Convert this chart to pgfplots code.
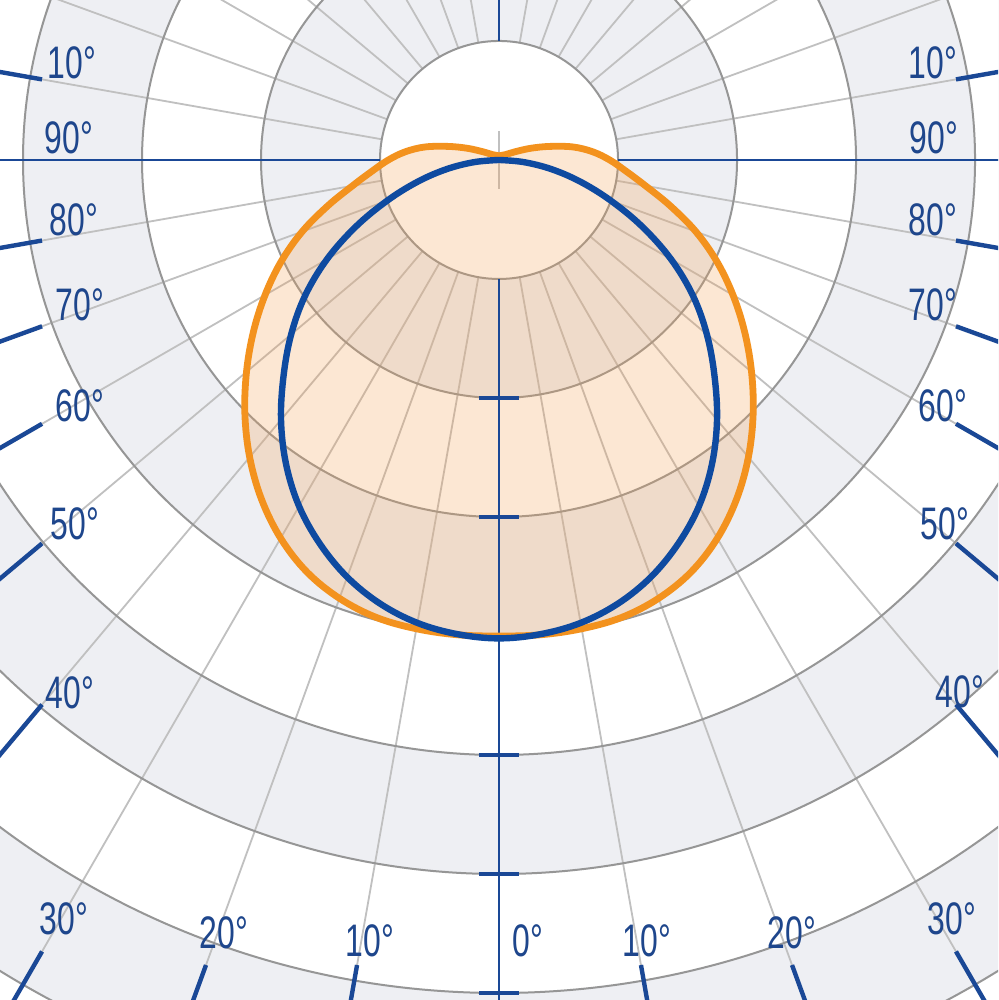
\documentclass[border=0pt]{standalone}
\usepackage{pgfplots}
\pgfplotsset{compat=1.18}
\usepackage{fontspec}
\setmainfont{Liberation Sans}
\usepackage{graphicx}
\definecolor{bandgrey}{RGB}{238,239,243}
\definecolor{ringgrey}{RGB}{150,150,150}
\definecolor{radgrey}{RGB}{192,192,192}
\definecolor{axblue}{RGB}{26,72,150}
\definecolor{curveblue}{RGB}{14,74,160}
\definecolor{corange}{RGB}{243,146,30}
\definecolor{ofill}{RGB}{245,160,80}
\definecolor{lblue}{RGB}{30,70,140}
\newcommand{\lab}[1]{\scalebox{0.7}[1]{#1}}
\pgfplotstableread{
phi r
-270 0.035
-240 0.045
-220 0.07
-210 0.12
-205 0.18
-200 0.29
-195 0.44
-190 0.63
-185 0.79
-180 0.93
-175 1.07
-170 1.25
-165 1.49
-160 1.76
-155 2.02
-150 2.27
-145 2.52
-140 2.77
-135 3.02
-130 3.26
-125 3.48
-120 3.67
-115 3.82
-110 3.92
-105 3.98
-100 4.00
-95 4.005
-90 4.00
-85 4.005
-80 4.00
-75 3.98
-70 3.92
-65 3.82
-60 3.67
-55 3.48
-50 3.26
-45 3.02
-40 2.77
-35 2.52
-30 2.27
-25 2.02
-20 1.76
-15 1.49
-10 1.25
-5 1.07
0 0.93
5 0.79
10 0.63
15 0.44
20 0.29
25 0.18
30 0.12
40 0.07
60 0.045
90 0.035
}\orangedata
\pgfplotstableread{
phi r
-180 0
-175 0.21
-170 0.45
-165 0.71
-160 1.00
-155 1.33
-150 1.67
-145 1.99
-140 2.28
-135 2.56
-130 2.85
-125 3.12
-120 3.36
-115 3.56
-110 3.73
-105 3.86
-100 3.95
-95 4.00
-90 4.02
-85 4.00
-80 3.95
-75 3.86
-70 3.73
-65 3.56
-60 3.36
-55 3.12
-50 2.85
-45 2.56
-40 2.28
-35 1.99
-30 1.67
-25 1.33
-20 1.00
-15 0.71
-10 0.45
-5 0.21
0 0
}\bluedata
\begin{document}
\begin{tikzpicture}
\begin{axis}[
  x=29.75pt, y=29.75pt,
  xmin=-4.1933, xmax=4.1933, ymin=-7.0588, ymax=1.3445,
  axis line style={draw=none}, ticks=none,
  clip=true,
]
% bands
\fill[bandgrey] (axis cs:0,0) circle[radius=8];
\fill[white] (axis cs:0,0) circle[radius=7];
\fill[bandgrey] (axis cs:0,0) circle[radius=6];
\fill[white] (axis cs:0,0) circle[radius=5];
\fill[bandgrey] (axis cs:0,0) circle[radius=4];
\fill[white] (axis cs:0,0) circle[radius=3];
\fill[bandgrey] (axis cs:0,0) circle[radius=2];
\fill[white] (axis cs:0,0) circle[radius=1];
% radial lines every 10 degrees
\pgfplotsinvokeforeach{0,10,...,350}{
  \draw[radgrey, line width=0.45pt] (axis cs:{cos(#1)},{sin(#1)}) -- (axis cs:{12*cos(#1)},{12*sin(#1)});
}
% rings
\pgfplotsinvokeforeach{1,2,...,9}{
  \draw[ringgrey, line width=0.5pt] (axis cs:0,0) circle[radius=#1];
}
% centre mark
\draw[radgrey, line width=0.45pt] (axis cs:0,-0.24) -- (axis cs:0,0.24);
% orange fill
\addplot[draw=none, fill=ofill, fill opacity=0.25, data cs=polar, smooth, tension=0.6] table[x=phi, y=r] {\orangedata} -- cycle;
% blue axes
\draw[axblue, line width=0.55pt] (axis cs:-6,0) -- (axis cs:-1,0);
\draw[axblue, line width=0.55pt] (axis cs:1,0) -- (axis cs:6,0);
\draw[axblue, line width=0.55pt] (axis cs:0,1) -- (axis cs:0,3);
\draw[axblue, line width=0.55pt] (axis cs:0,-1) -- (axis cs:0,-9);
\pgfplotsinvokeforeach{2,3,...,7}{
  \draw[axblue, line width=0.8pt] (axis cs:-0.168,-#1) -- (axis cs:0.168,-#1);
}
% angle ticks on the frame
\pgfplotsinvokeforeach{30,40,50,60,70,80,100}{
  \draw[axblue, line width=1.1pt] (axis cs:-3.84,{-3.84*cot(#1)}) -- (axis cs:{-3.84-0.8*sin(#1)},{-3.84*cot(#1)-0.8*cos(#1)});
  \draw[axblue, line width=1.1pt] (axis cs:3.84,{-3.84*cot(#1)}) -- (axis cs:{3.84+0.8*sin(#1)},{-3.84*cot(#1)-0.8*cos(#1)});
}
\pgfplotsinvokeforeach{10,20}{
  \draw[axblue, line width=1.1pt] (axis cs:{-6.765*tan(#1)},-6.765) -- (axis cs:{-6.765*tan(#1)-0.8*sin(#1)},{-6.765-0.8*cos(#1)});
  \draw[axblue, line width=1.1pt] (axis cs:{6.765*tan(#1)},-6.765) -- (axis cs:{6.765*tan(#1)+0.8*sin(#1)},{-6.765-0.8*cos(#1)});
}
% curves
\addplot[corange, line width=1.7pt, data cs=polar, smooth, tension=0.6] table[x=phi, y=r] {\orangedata};
\addplot[curveblue, line width=1.6pt, data cs=polar, smooth, tension=0.6] table[x=phi, y=r] {\bluedata};
% angle labels
\node[text=lblue, font=\fontsize{11.4}{12}\selectfont] at (axis cs:-3.588,0.815) {\lab{10°}};
\node[text=lblue, font=\fontsize{11.4}{12}\selectfont] at (axis cs:-3.613,0.185) {\lab{90°}};
\node[text=lblue, font=\fontsize{11.4}{12}\selectfont] at (axis cs:-3.571,-0.504) {\lab{80°}};
\node[text=lblue, font=\fontsize{11.4}{12}\selectfont] at (axis cs:-3.521,-1.218) {\lab{70°}};
\node[text=lblue, font=\fontsize{11.4}{12}\selectfont] at (axis cs:-3.521,-2.067) {\lab{60°}};
\node[text=lblue, font=\fontsize{11.4}{12}\selectfont] at (axis cs:-3.563,-3.059) {\lab{50°}};
\node[text=lblue, font=\fontsize{11.4}{12}\selectfont] at (axis cs:-3.605,-4.479) {\lab{40°}};
\node[text=lblue, font=\fontsize{11.4}{12}\selectfont] at (axis cs:-3.655,-6.378) {\lab{30°}};
\node[text=lblue, font=\fontsize{11.4}{12}\selectfont] at (axis cs:-2.311,-6.496) {\lab{20°}};
\node[text=lblue, font=\fontsize{11.4}{12}\selectfont] at (axis cs:-1.084,-6.563) {\lab{10°}};
\node[text=lblue, font=\fontsize{11.4}{12}\selectfont] at (axis cs:0.244,-6.563) {\lab{0°}};
\node[text=lblue, font=\fontsize{11.4}{12}\selectfont] at (axis cs:1.244,-6.563) {\lab{10°}};
\node[text=lblue, font=\fontsize{11.4}{12}\selectfont] at (axis cs:2.462,-6.496) {\lab{20°}};
\node[text=lblue, font=\fontsize{11.4}{12}\selectfont] at (axis cs:3.807,-6.378) {\lab{30°}};
\node[text=lblue, font=\fontsize{11.4}{12}\selectfont] at (axis cs:3.874,-4.471) {\lab{40°}};
\node[text=lblue, font=\fontsize{11.4}{12}\selectfont] at (axis cs:3.748,-3.059) {\lab{50°}};
\node[text=lblue, font=\fontsize{11.4}{12}\selectfont] at (axis cs:3.731,-2.067) {\lab{60°}};
\node[text=lblue, font=\fontsize{11.4}{12}\selectfont] at (axis cs:3.647,-1.218) {\lab{70°}};
\node[text=lblue, font=\fontsize{11.4}{12}\selectfont] at (axis cs:3.647,-0.504) {\lab{80°}};
\node[text=lblue, font=\fontsize{11.4}{12}\selectfont] at (axis cs:3.655,0.185) {\lab{90°}};
\node[text=lblue, font=\fontsize{11.4}{12}\selectfont] at (axis cs:3.647,0.815) {\lab{10°}};
\end{axis}
\end{tikzpicture}
\end{document}
